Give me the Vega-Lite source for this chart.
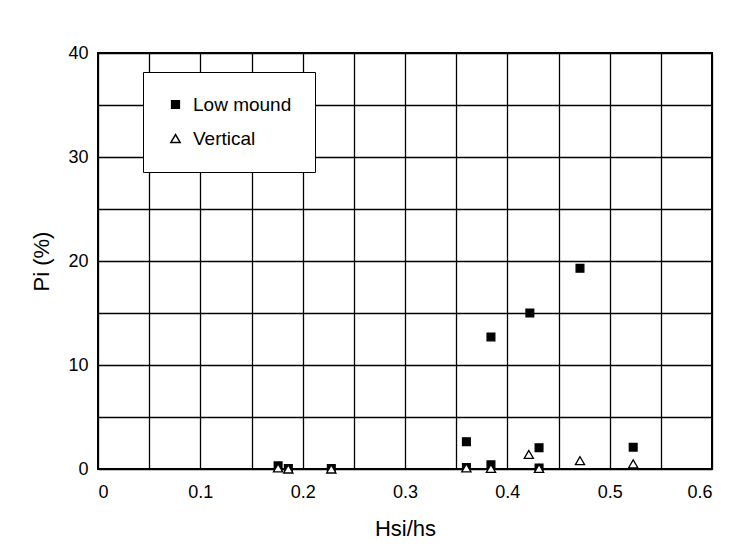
{
  "$schema": "https://vega.github.io/schema/vega-lite/v6.json",
  "autosize": "none",
  "width": 614,
  "height": 416,
  "padding": {"left": 98, "top": 53, "right": 28, "bottom": 87},
  "background": "white",
  "config": {
    "font": "Liberation Sans",
    "view": {"stroke": "black", "strokeWidth": 2},
    "axis": {
      "domain": false,
      "ticks": false,
      "grid": true,
      "gridColor": "black",
      "gridOpacity": 1,
      "gridWidth": 1.3,
      "labelFont": "Liberation Sans",
      "labelFontSize": 18,
      "labelColor": "black",
      "titleFont": "Liberation Sans",
      "titleFontSize": 22,
      "titleFontWeight": "normal",
      "titleColor": "black"
    },
    "legend": {
      "orient": "none",
      "legendX": 45,
      "legendY": 19,
      "padding": 23,
      "fillColor": "white",
      "strokeColor": "black",
      "labelFont": "Liberation Sans",
      "labelFontSize": 19,
      "labelColor": "black",
      "labelOffset": 8,
      "rowPadding": 14
    }
  },
  "data": {
    "values": [
      {"ratio": 0.176, "pi": 0.3, "type": "Low mound"},
      {"ratio": 0.186, "pi": 0.05, "type": "Low mound"},
      {"ratio": 0.228, "pi": 0.05, "type": "Low mound"},
      {"ratio": 0.36, "pi": 0.15, "type": "Low mound"},
      {"ratio": 0.36, "pi": 2.63, "type": "Low mound"},
      {"ratio": 0.384, "pi": 0.4, "type": "Low mound"},
      {"ratio": 0.384, "pi": 12.7, "type": "Low mound"},
      {"ratio": 0.422, "pi": 15.0, "type": "Low mound"},
      {"ratio": 0.431, "pi": 0.1, "type": "Low mound"},
      {"ratio": 0.431, "pi": 2.05, "type": "Low mound"},
      {"ratio": 0.471, "pi": 19.3, "type": "Low mound"},
      {"ratio": 0.523, "pi": 2.1, "type": "Low mound"},
      {"ratio": 0.176, "pi": 0.1, "type": "Vertical"},
      {"ratio": 0.186, "pi": 0.0, "type": "Vertical"},
      {"ratio": 0.228, "pi": 0.0, "type": "Vertical"},
      {"ratio": 0.36, "pi": 0.1, "type": "Vertical"},
      {"ratio": 0.384, "pi": 0.05, "type": "Vertical"},
      {"ratio": 0.421, "pi": 1.4, "type": "Vertical"},
      {"ratio": 0.431, "pi": 0.05, "type": "Vertical"},
      {"ratio": 0.471, "pi": 0.8, "type": "Vertical"},
      {"ratio": 0.523, "pi": 0.5, "type": "Vertical"}
    ]
  },
  "mark": {"type": "point", "filled": true, "stroke": "black", "strokeWidth": 1.3, "opacity": 1},
  "encoding": {
    "x": {
      "field": "ratio",
      "type": "quantitative",
      "scale": {"domain": [0, 0.6], "nice": false, "zero": true},
      "axis": {
        "title": "Hsi/hs",
        "values": [0, 0.05, 0.1, 0.15, 0.2, 0.25, 0.3, 0.35, 0.4, 0.45, 0.5, 0.55, 0.6],
        "format": "~g",
        "labelExpr": "round(datum.value * 100) % 10 == 0 ? datum.label : ''",
        "labelPadding": 14,
        "titleX": 307,
        "titleY": 59,
        "titleBaseline": "middle",
        "titleAlign": "center"
      }
    },
    "y": {
      "field": "pi",
      "type": "quantitative",
      "scale": {"domain": [0, 40], "nice": false},
      "axis": {
        "title": "Pi (%)",
        "values": [0, 5, 10, 15, 20, 25, 30, 35, 40],
        "labelExpr": "datum.value % 10 == 0 ? datum.label : ''",
        "labelPadding": 10,
        "titleX": -57,
        "titleY": 208,
        "titleAngle": -90,
        "titleBaseline": "middle",
        "titleAlign": "center"
      }
    },
    "shape": {
      "field": "type",
      "type": "nominal",
      "title": null,
      "scale": {"domain": ["Low mound", "Vertical"], "range": ["square", "triangle-up"]},
      "legend": {
        "encode": {
          "symbols": {
            "update": {
              "stroke": {"value": "black"},
              "strokeWidth": {"value": 1.2}
            }
          }
        }
      }
    },
    "fill": {
      "field": "type",
      "type": "nominal",
      "title": null,
      "scale": {"domain": ["Low mound", "Vertical"], "range": ["black", "white"]},
      "legend": {
        "encode": {
          "symbols": {
            "update": {
              "stroke": {"value": "black"},
              "strokeWidth": {"value": 1.2}
            }
          }
        }
      }
    },
    "size": {
      "field": "type",
      "type": "nominal",
      "title": null,
      "scale": {"domain": ["Low mound", "Vertical"], "range": [60, 85]},
      "legend": {
        "encode": {
          "symbols": {
            "update": {
              "stroke": {"value": "black"},
              "strokeWidth": {"value": 1.2}
            }
          }
        }
      }
    }
  }
}
